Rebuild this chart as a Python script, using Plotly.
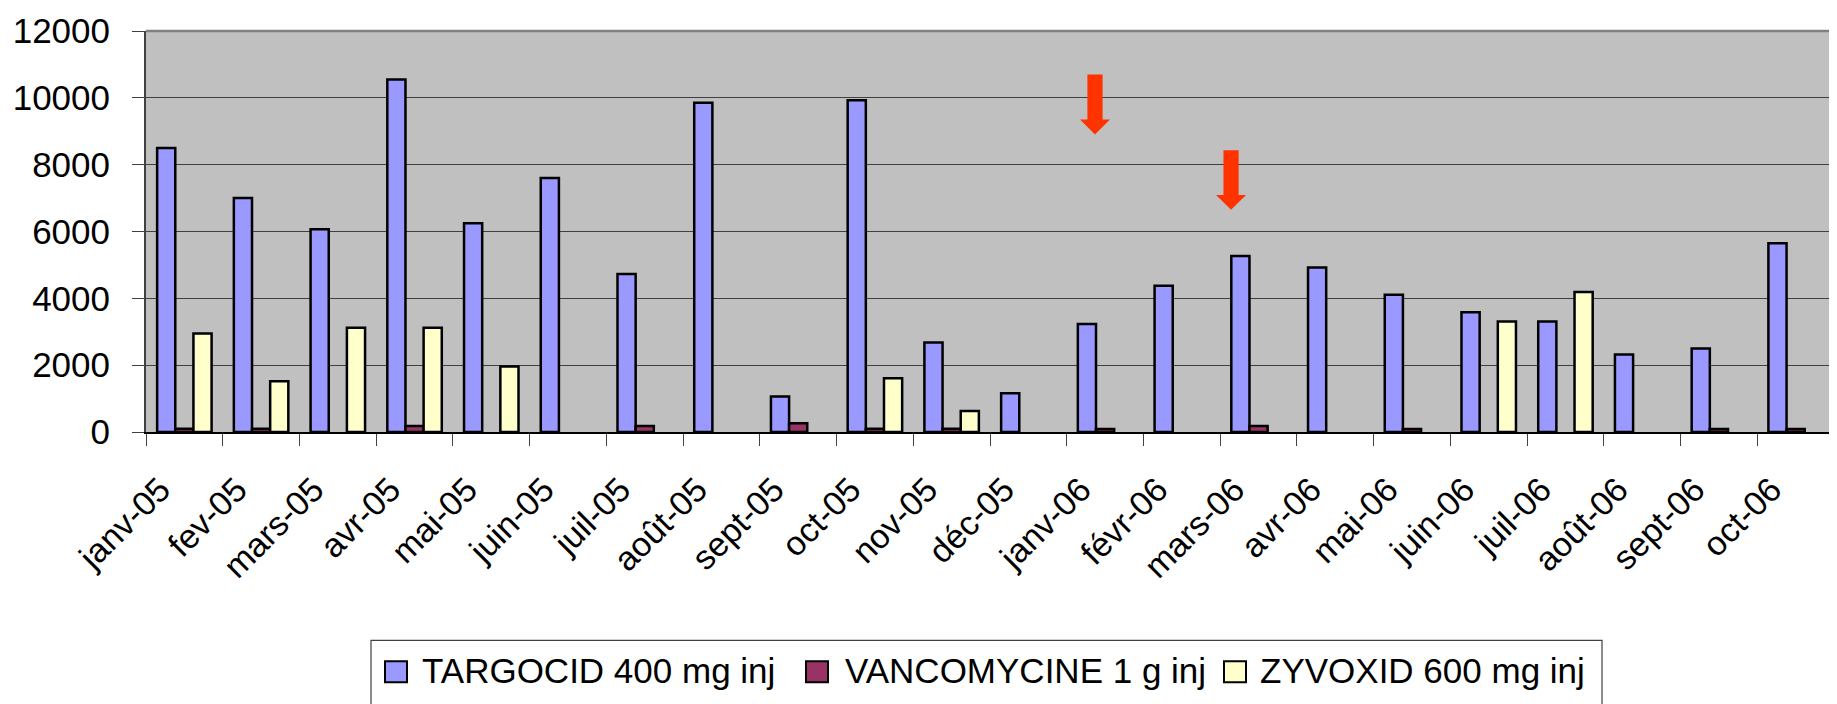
import plotly.graph_objects as go

months = ["janv-05", "fev-05", "mars-05", "avr-05", "mai-05", "juin-05", "juil-05",
          "août-05", "sept-05", "oct-05", "nov-05", "déc-05", "janv-06", "févr-06",
          "mars-06", "avr-06", "mai-06", "juin-06", "juil-06", "août-06", "sept-06", "oct-06"]

targocid = [8500, 7000, 6070, 10550, 6250, 7600, 4730, 9850, 1060, 9930, 2680, 1160,
            3230, 4380, 5270, 4920, 4110, 3580, 3310, 2320, 2500, 5650]
vancomycine = [100, 100, None, 180, None, None, 180, None, 260, 100, 100, None,
               90, None, 180, None, 90, None, None, None, 90, 90]
zyvoxid = [2950, 1520, 3120, 3120, 1960, None, None, None, None, 1610, 630, None,
           None, None, None, None, None, 3310, 4190, None, None, None]

series_names = ["TARGOCID 400 mg inj", "VANCOMYCINE 1 g inj", "ZYVOXID 600 mg inj"]
series_colors = ["#9999FF", "#993366", "#FFFFCC"]

y_ticks = [0, 2000, 4000, 6000, 8000, 10000, 12000]
y_ticktext = ["0", "2000", "4000", "6000", "8000", "10000", "12000"]

FONT = "Arial, Liberation Sans, sans-serif"

# figure geometry (pixels)
W, H = 1829, 696
ML, MR, MT, MB = 138, 3, 20, 272
PW, PH = W - ML - MR, H - MT - MB


def px_x(p):
    return (p - ML) / PW


def px_y(p):
    return (H - MB - p) / PH


fig = go.Figure()
for name, vals, col in zip(series_names, [targocid, vancomycine, zyvoxid], series_colors):
    fig.add_trace(go.Bar(
        x=months, y=vals, name=name, showlegend=False,
        marker=dict(color=col, line=dict(color="black", width=2.5)),
    ))

# red arrows (annotations) : x in paper fraction, y in data units
arrows = [
    dict(xc=0.5622, top=10700, neck=9350, tip=8900),
    dict(xc=0.6428, top=8430, neck=7090, tip=6650),
]
hs, hh = 0.0045, 0.0089
for a in arrows:
    xc = a["xc"]
    path = (f"M {xc-hs} {a['top']} L {xc+hs} {a['top']} L {xc+hs} {a['neck']} "
            f"L {xc+hh} {a['neck']} L {xc} {a['tip']} L {xc-hh} {a['neck']} "
            f"L {xc-hs} {a['neck']} Z")
    fig.add_shape(type="path", path=path, xref="paper", yref="y",
                  fillcolor="#FF3300", line=dict(width=0), layer="above")

# plot-area border (top/right gray)
fig.add_shape(type="line", xref="paper", yref="paper", x0=0, x1=1, y0=1, y1=1,
              line=dict(color="#808080", width=2.5))
fig.add_shape(type="line", xref="paper", yref="paper", x0=1, x1=1, y0=0, y1=1,
              line=dict(color="#808080", width=2.5))

# legend box drawn manually (pixel positions in figure coordinates)
leg_box = dict(x0=363, x1=1594, y0=634, y1=712)
leg_swatch_x = [377, 798, 1216]
leg_text_x = [412, 835, 1250]
sw_w, sw_y0, sw_y1 = 22, 655, 676
leg_text_y = 664

fig.add_shape(type="rect", xref="paper", yref="paper",
              x0=px_x(leg_box["x0"]), x1=px_x(leg_box["x1"]),
              y0=px_y(leg_box["y1"]), y1=px_y(leg_box["y0"]),
              line=dict(color="#404040", width=1.2), fillcolor="white")
for sx, tx, name, col in zip(leg_swatch_x, leg_text_x, series_names, series_colors):
    fig.add_shape(type="rect", xref="paper", yref="paper",
                  x0=px_x(sx), x1=px_x(sx + sw_w),
                  y0=px_y(sw_y1), y1=px_y(sw_y0),
                  line=dict(color="black", width=2), fillcolor=col)
    fig.add_annotation(text=name, xref="paper", yref="paper",
                       x=px_x(tx), y=px_y(leg_text_y),
                       xanchor="left", yanchor="middle", showarrow=False,
                       font=dict(family=FONT, size=35, color="black"))

fig.update_layout(
    width=W, height=H,
    margin=dict(l=ML, r=MR, t=MT, b=MB),
    paper_bgcolor="white",
    plot_bgcolor="#C0C0C0",
    barmode="group",
    bargap=0.29,
    bargroupgap=0,
    font=dict(family=FONT, size=34, color="black"),
    showlegend=False,
    xaxis=dict(
        type="category",
        tickangle=-45,
        ticks="outside",
        tickson="boundaries",
        ticklen=12,
        tickcolor="#404040",
        showline=True, linecolor="black", linewidth=2,
        showgrid=False,
        tickfont=dict(family=FONT, size=34, color="black"),
        ticklabelshift=-24,
        ticklabelstandoff=22,
    ),
    yaxis=dict(
        range=[0, 12000],
        tickvals=y_ticks,
        ticktext=y_ticktext,
        ticks="outside",
        ticklen=12,
        tickcolor="#404040",
        showline=True, linecolor="#404040", linewidth=2,
        showgrid=True, gridcolor="#404040", gridwidth=1,
        zeroline=False,
        tickfont=dict(family=FONT, size=35, color="black"),
        ticklabelstandoff=15,
    ),
)

fig.write_html("out.html")
